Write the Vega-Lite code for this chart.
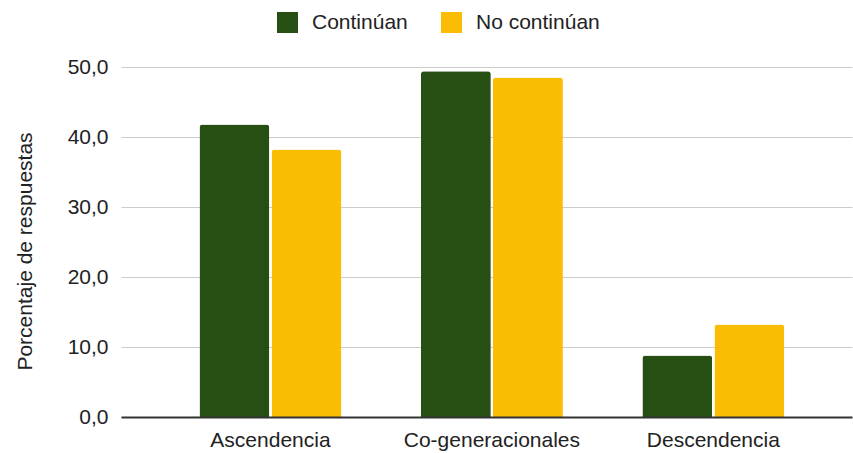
{
  "$schema": "https://vega.github.io/schema/vega-lite/v6.json",
  "autosize": {"type": "none"},
  "padding": {"left": 121, "top": 67, "right": 1, "bottom": 36},
  "width": 731,
  "height": 350,
  "config": {"view": {"stroke": null}, "font": "Liberation Sans"},
  "data": {
    "values": [
      {"categoria": "Ascendencia", "serie": "Continúan", "valor": 41.8},
      {"categoria": "Ascendencia", "serie": "No continúan", "valor": 38.2},
      {"categoria": "Co-generacionales", "serie": "Continúan", "valor": 49.4},
      {"categoria": "Co-generacionales", "serie": "No continúan", "valor": 48.5},
      {"categoria": "Descendencia", "serie": "Continúan", "valor": 8.8},
      {"categoria": "Descendencia", "serie": "No continúan", "valor": 13.2}
    ]
  },
  "mark": {"type": "bar", "cornerRadiusTopLeft": 3, "cornerRadiusTopRight": 3},
  "encoding": {
    "x": {
      "field": "categoria",
      "type": "nominal",
      "sort": ["Ascendencia", "Co-generacionales", "Descendencia"],
      "scale": {"paddingInner": 0.359, "paddingOuter": 0.33, "align": 0.537},
      "axis": {
        "title": null,
        "labelAngle": 0,
        "domainColor": "#333333",
        "domainWidth": 2,
        "ticks": false,
        "labelFontSize": 21,
        "labelColor": "#222222",
        "labelPadding": 12,
        "zindex": 1
      }
    },
    "xOffset": {
      "field": "serie",
      "sort": ["Continúan", "No continúan"],
      "scale": {"paddingInner": 0.03}
    },
    "y": {
      "field": "valor",
      "type": "quantitative",
      "scale": {"domain": [0, 50]},
      "axis": {
        "title": "Porcentaje de respuestas",
        "values": [0, 10, 20, 30, 40, 50],
        "labelExpr": "replace(format(datum.value, '.1f'), '.', ',')",
        "domain": false,
        "ticks": false,
        "gridColor": "#cccccc",
        "labelFontSize": 21,
        "labelColor": "#222222",
        "labelPadding": 13,
        "titleFontSize": 21,
        "titleFontWeight": "normal",
        "titleColor": "#222222",
        "titleX": -96,
        "titleY": 184,
        "titleAngle": 270,
        "titleAlign": "center",
        "titleBaseline": "middle"
      }
    },
    "color": {
      "field": "serie",
      "type": "nominal",
      "sort": ["Continúan", "No continúan"],
      "scale": {"domain": ["Continúan", "No continúan"], "range": ["#274e13", "#fbbc04"]},
      "legend": {
        "title": null,
        "orient": "none",
        "direction": "horizontal",
        "legendX": 156,
        "legendY": -55,
        "symbolType": "square",
        "symbolSize": 441,
        "symbolStrokeWidth": 0,
        "symbolOpacity": 1,
        "labelFontSize": 21,
        "labelColor": "#222222",
        "labelOffset": 14,
        "columnPadding": 33
      }
    }
  }
}
